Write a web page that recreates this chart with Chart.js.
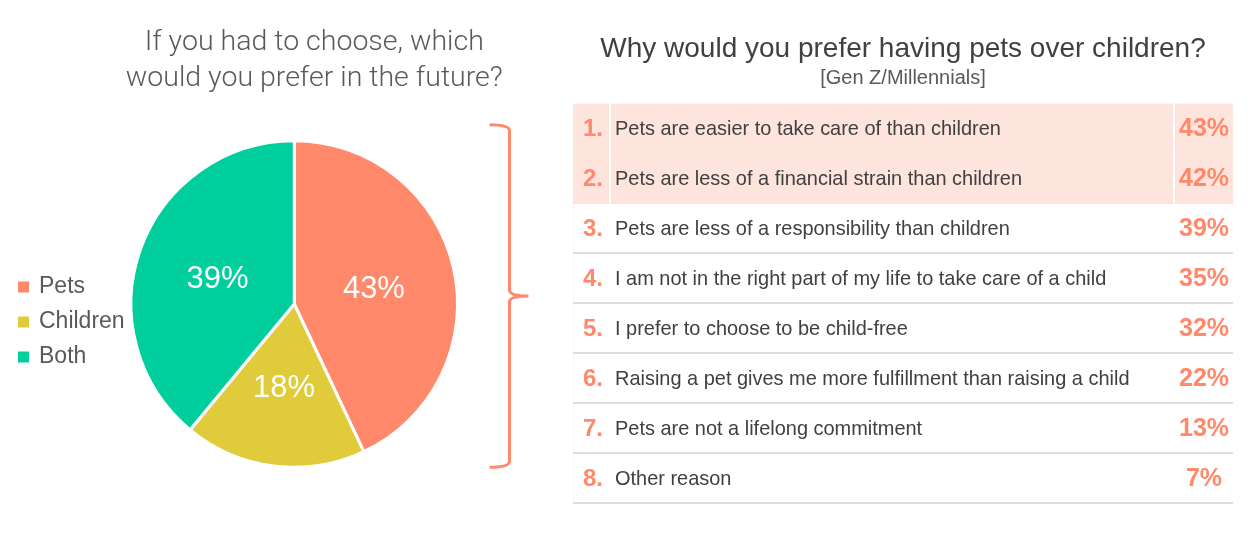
<!DOCTYPE html>
<html>
<head>
<meta charset="utf-8">
<script src="https://cdn.jsdelivr.net/npm/chart.js@4.4.1/dist/chart.umd.min.js"></script>
<style>
    html, body { margin: 0; padding: 0; background: #fff; }
    body { width: 1252px; height: 538px; position: relative; overflow: hidden; }
    #pieChart { position: absolute; left: 0; top: 0; }
    #reasonChart { position: absolute; left: 560px; top: 0; }
</style>
</head>
<body>
<canvas id="pieChart" width="600" height="538"></canvas>
<canvas id="reasonChart" width="692" height="538"></canvas>
<script>
const pieTitle = ['If you had to choose, which', 'would you prefer in the future?'];
const choiceLabels = ['Pets', 'Children', 'Both'];
const choiceShares = [43, 18, 39];
const choiceColors = ['#FF896A', '#E0CC3A', '#00CE9C'];

const reasons = [
    'Pets are easier to take care of than children',
    'Pets are less of a financial strain than children',
    'Pets are less of a responsibility than children',
    'I am not in the right part of my life to take care of a child',
    'I prefer to choose to be child-free',
    'Raising a pet gives me more fulfillment than raising a child',
    'Pets are not a lifelong commitment',
    'Other reason'
];
const reasonShares = [43, 42, 39, 35, 32, 22, 13, 7];
const highlightCount = 2;

const accent = '#FF896A', sans = '"Liberation Sans", Arial, sans-serif';

// slightly squeezed text, the original uses a narrower face
function fillNarrow(ctx, text, x, y, squeeze) {
    ctx.fillText(text, x, y, ctx.measureText(text).width * squeeze);
}

// two-line question above the pie, a bit right of the pie centre like the original
const pieHeading = {
    id: 'pieHeading',
    afterDraw(chart) {
        const arc = chart.getDatasetMeta(0).data[0];
        if (!arc) return;
        const ctx = chart.ctx;
        ctx.save();
        ctx.fillStyle = '#595959';
        ctx.font = '300 28.5px Roboto, sans-serif';
        ctx.textAlign = 'center';
        ctx.textBaseline = 'middle';
        pieTitle.forEach((line, i) => ctx.fillText(line, arc.x + 20, 43 + i * 36));
        ctx.restore();
    }
};

// percentage inside each slice
const sliceLabels = {
    id: 'sliceLabels',
    afterDatasetsDraw(chart) {
        const ctx = chart.ctx;
        ctx.save();
        ctx.fillStyle = '#fff';
        ctx.font = '31px ' + sans;
        ctx.textAlign = 'center';
        ctx.textBaseline = 'middle';
        chart.getDatasetMeta(0).data.forEach((arc, i) => {
            const p = arc.tooltipPosition();
            ctx.fillText(choiceShares[i] + '%', p.x, p.y + 3);
        });
        ctx.restore();
    }
};

// curly bracket pointing at the table
const bracket = {
    id: 'bracket',
    afterDraw(chart) {
        const arc = chart.getDatasetMeta(0).data[0];
        if (!arc) return;
        const ctx = chart.ctx, r = arc.outerRadius;
        const x0 = arc.x + r + 32, x1 = x0 + 20, tip = x1 + 19;
        const top = arc.y - r - 16, bottom = arc.y + r, mid = (top + bottom) / 2;
        ctx.save();
        ctx.strokeStyle = accent;
        ctx.lineWidth = 3;
        ctx.beginPath();
        ctx.moveTo(x0, top);
        ctx.quadraticCurveTo(x1, top, x1, top + 6);
        ctx.lineTo(x1, mid - 6);
        ctx.quadraticCurveTo(x1, mid, tip, mid);
        ctx.quadraticCurveTo(x1, mid, x1, mid + 6);
        ctx.lineTo(x1, bottom - 6);
        ctx.quadraticCurveTo(x1, bottom, x0, bottom);
        ctx.stroke();
        ctx.restore();
    }
};

// numbers, reasons and shares written on each table row
const rowText = {
    id: 'rowText',
    afterDatasetsDraw(chart) {
        const { ctx, chartArea: a, scales: { y } } = chart;
        const band = y.getPixelForValue(1) - y.getPixelForValue(0);
        ctx.save();
        ctx.strokeStyle = '#fff';
        ctx.lineWidth = 2;
        for (let i = 0; i < highlightCount; i++) {
            const yc = y.getPixelForValue(i);
            [a.left + 37, a.right - 59].forEach(x => {
                ctx.beginPath();
                ctx.moveTo(x, yc - band / 2);
                ctx.lineTo(x, yc + band / 2);
                ctx.stroke();
            });
        }
        ctx.textBaseline = 'middle';
        reasons.forEach((txt, i) => {
            const yc = y.getPixelForValue(i) + 1;
            ctx.fillStyle = accent;
            ctx.font = 'bold 24px ' + sans;
            ctx.textAlign = 'left';
            ctx.fillText((i + 1) + '.', a.left + 10, yc);
            ctx.fillStyle = '#404040';
            ctx.font = '21px ' + sans;
            fillNarrow(ctx, txt, a.left + 42, yc, 0.95);
            ctx.fillStyle = accent;
            ctx.font = 'bold 25px ' + sans;
            ctx.textAlign = 'center';
            ctx.fillText(reasonShares[i] + '%', a.right - 29, yc);
        });
        ctx.restore();
    }
};

new Chart(document.getElementById('pieChart'), {
    type: 'pie',
    data: {
        labels: choiceLabels,
        datasets: [{ data: choiceShares, backgroundColor: choiceColors, borderColor: '#fff', borderWidth: 3 }]
    },
    options: {
        responsive: false,
        animation: false,
        layout: { padding: { left: 7.5, right: 141, top: 139, bottom: 69 } },
        plugins: {
            legend: {
                position: 'left', fullSize: false, maxWidth: 122,
                title: { display: true, text: ' ', font: { size: 10 }, padding: 12 },
                labels: {
                    usePointStyle: true, pointStyle: 'rect', boxWidth: 8, boxHeight: 11, padding: 12,
                    color: '#595959', font: { family: sans, size: 23 },
                    // plain filled squares, without the white slice border
                    generateLabels: chart => Chart.overrides.pie.plugins.legend.labels.generateLabels(chart)
                        .map(item => Object.assign(item, { lineWidth: 0 }))
                }
            },
            tooltip: { enabled: false }
        }
    },
    plugins: [sliceLabels, bracket, pieHeading]
});

new Chart(document.getElementById('reasonChart'), {
    type: 'bar',
    data: {
        labels: reasons,
        datasets: [{
            data: reasonShares.map((v, i) => i < highlightCount ? 1 : 0),
            backgroundColor: '#FDE4DD',
            borderWidth: 0,
            barPercentage: 1,
            categoryPercentage: 1
        }]
    },
    options: {
        indexAxis: 'y',
        responsive: false,
        animation: false,
        layout: { padding: { left: 13, right: 19, top: 0, bottom: 35 } },
        plugins: {
            legend: { display: false },
            tooltip: { enabled: false },
            title: {
                display: true, text: 'Why would you prefer having pets over children?', color: '#404040',
                font: { family: sans, size: 28, weight: 'normal' }, padding: { top: 32, bottom: 1 }
            },
            subtitle: {
                display: true, text: '[Gen Z/Millennials]', color: '#595959',
                font: { family: sans, size: 20 }, padding: { top: 0, bottom: 13 }
            }
        },
        scales: {
            x: { display: false, min: 0, max: 1 },
            y: {
                z: 1,
                ticks: { display: false },
                border: { display: false },
                grid: {
                    offset: true, drawTicks: false, lineWidth: 2,
                    color: c => c.index === 0 ? 'rgba(0,0,0,0)' : (c.index < highlightCount ? '#FFF3EF' : '#DDDDDD')
                }
            }
        }
    },
    plugins: [rowText]
});
</script>
</body>
</html>
